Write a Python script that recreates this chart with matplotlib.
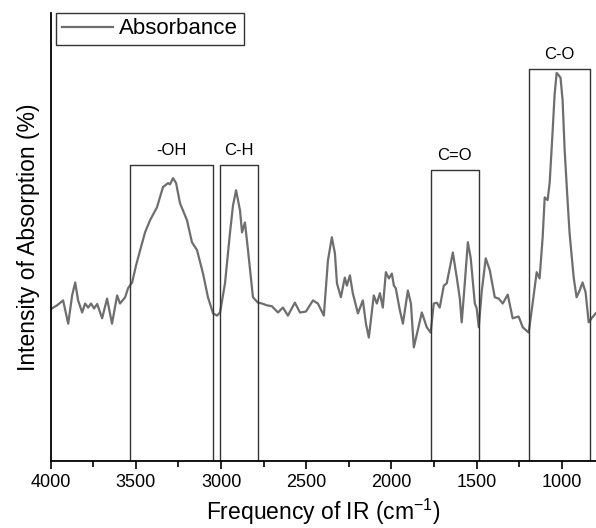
import matplotlib
matplotlib.use('Agg')
import matplotlib.pyplot as plt
from matplotlib.ticker import MultipleLocator

plt.rcParams['font.family'] = ['Liberation Sans', 'DejaVu Sans']

# FTIR spectrum (wavenumber cm-1, relative intensity)
wavenumber = [3993, 3962, 3927, 3897, 3874, 3856, 3839, 3815, 3798, 3780, 3763, 3745, 3727,
              3698, 3669, 3640, 3610, 3593, 3563, 3546, 3522, 3499, 3475, 3446, 3417, 3376,
              3341, 3311, 3300, 3282, 3264, 3241, 3200, 3171, 3141, 3106, 3077, 3047, 3024,
              3006, 2977, 2948, 2930, 2912, 2889, 2877, 2860, 2842, 2813, 2784, 2760, 2731,
              2702, 2666, 2637, 2608, 2567, 2537, 2502, 2461, 2432, 2397, 2373, 2350, 2332,
              2320, 2297, 2274, 2262, 2244, 2227, 2197, 2168, 2150, 2133, 2104, 2086, 2068,
              2051, 2033, 2015, 1998, 1986, 1975, 1951, 1933, 1904, 1886, 1869, 1846, 1822,
              1793, 1770, 1752, 1734, 1717, 1693, 1676, 1640, 1617, 1599, 1588, 1570, 1552,
              1535, 1511, 1500, 1488, 1470, 1447, 1423, 1394, 1371, 1347, 1318, 1289, 1254,
              1230, 1195, 1172, 1148, 1131, 1113, 1101, 1084, 1072, 1055, 1043, 1031, 1019,
              1008, 996, 984, 967, 955, 931, 914, 896, 879, 861, 843, 826, 802]
absorbance = [34.0, 34.7, 35.8, 30.6, 36.9, 39.8, 35.8, 33.1, 35.1, 34.2, 35.1, 34.0, 35.0,
              31.8, 36.2, 30.6, 36.9, 35.1, 36.5, 38.5, 39.8, 43.6, 47.0, 51.0, 53.7, 56.6,
              61.1, 62.0, 61.7, 63.1, 62.0, 57.5, 53.7, 48.8, 47.0, 41.8, 36.5, 32.9, 32.4,
              33.1, 39.6, 50.8, 57.0, 60.4, 55.9, 51.0, 53.2, 47.0, 36.5, 35.3, 35.1, 34.7,
              34.5, 33.1, 34.2, 32.4, 35.3, 33.1, 33.3, 35.8, 35.1, 32.4, 44.7, 49.9, 46.3,
              39.6, 36.5, 40.9, 39.1, 41.4, 37.4, 32.9, 35.8, 30.6, 27.5, 36.9, 35.1, 37.4,
              34.2, 42.1, 40.7, 41.8, 39.1, 38.5, 33.6, 30.6, 38.0, 35.1, 25.3, 29.1, 33.1,
              29.8, 28.6, 35.1, 35.3, 34.2, 39.1, 39.6, 46.5, 40.9, 36.2, 30.9, 39.6, 48.8,
              45.2, 35.1, 34.0, 29.8, 38.0, 45.2, 42.5, 36.5, 36.2, 35.1, 37.1, 31.8, 32.2,
              29.8, 28.6, 35.1, 42.1, 40.7, 49.9, 58.8, 58.2, 62.0, 73.2, 81.7, 86.6, 86.1,
              85.5, 80.5, 69.4, 58.2, 50.8, 40.9, 36.5, 38.0, 39.8, 37.6, 30.9, 31.8, 32.9]

# band boxes: label, high wavenumber, low wavenumber, box top
band_labels = ['-OH', 'C-H', 'C=O', 'C-O']
band_hi = [3534, 3006, 1770, 1195]
band_lo = [3048, 2784, 1488, 837]
band_top = [66.0, 66.0, 64.9, 87.5]

fig = plt.figure(figsize=(5.96, 5.28), dpi=100)
ax = fig.add_axes([0.085, 0.1275, 0.915, 0.848])

ax.plot(wavenumber, absorbance, color='#6e6e6e', linewidth=1.6, label='Absorbance',
        solid_joinstyle='round')

for lbl, hi, lo, top in zip(band_labels, band_hi, band_lo, band_top):
    ax.plot([hi, hi, lo, lo], [0, top, top, 0], color='#333333', linewidth=1.0)
    ax.text((hi + lo) / 2, top + 1.5, lbl, ha='center', va='bottom', fontsize=12)

ax.set_xlim(4000, 800)
ax.set_ylim(0, 100)
ax.xaxis.set_major_locator(MultipleLocator(500))
ax.xaxis.set_minor_locator(MultipleLocator(250))
ax.tick_params(axis='x', which='major', direction='out', length=6, width=1.2, labelsize=13)
ax.tick_params(axis='x', which='minor', direction='out', length=4, width=1.2)
ax.set_yticks([])
for s in ['top', 'right']:
    ax.spines[s].set_visible(False)
for s in ['left', 'bottom']:
    ax.spines[s].set_linewidth(1.3)

ax.set_xlabel(r'Frequency of IR (cm$^{\mathregular{-1}}$)', fontsize=16.5, labelpad=4)
ax.set_ylabel('Intensity of Absorption (%)', fontsize=16.5, labelpad=8)

leg = ax.legend(loc='upper left', bbox_to_anchor=(0.01, 1.0), fontsize=16, fancybox=False,
                framealpha=1, edgecolor='#333333', borderpad=0.25, handlelength=2.3,
                handletextpad=0.3, borderaxespad=0)
leg.get_frame().set_linewidth(1.0)

plt.savefig('out.png', dpi=100)
